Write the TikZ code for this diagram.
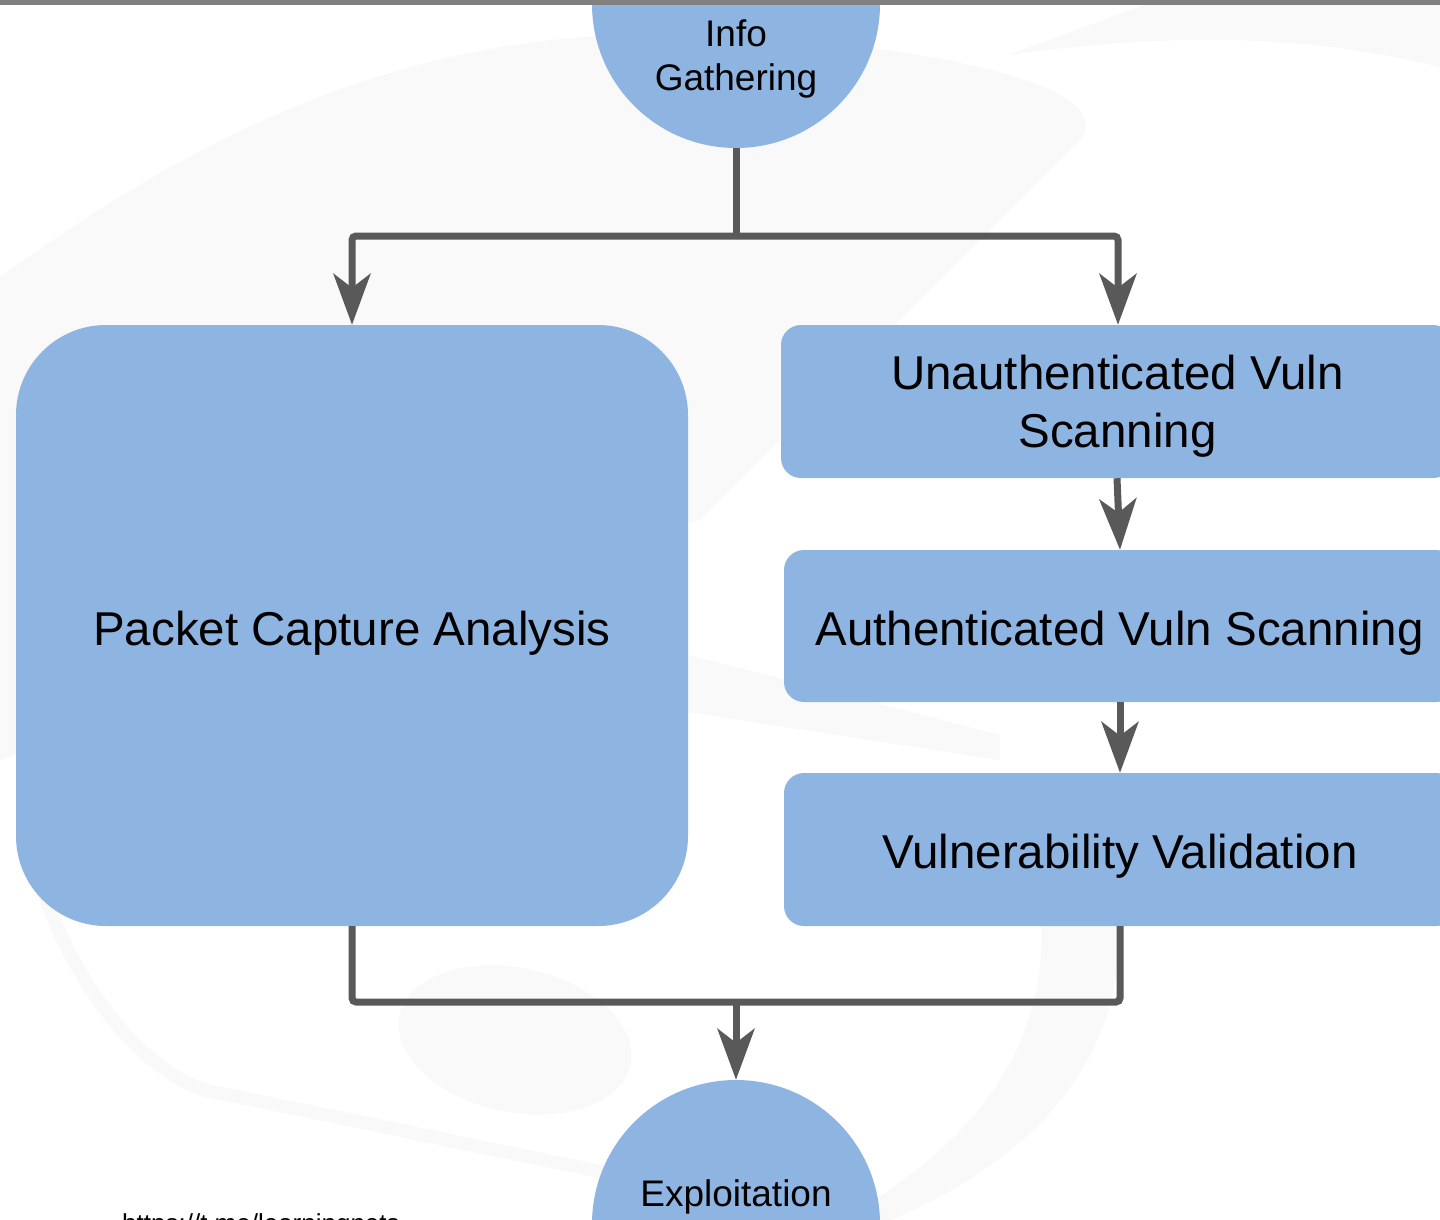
\documentclass[tikz,border=0pt]{standalone}
\usepackage{fontspec}
\setmainfont{Liberation Sans}
\usetikzlibrary{arrows.meta}
\definecolor{boxblue}{RGB}{142,180,226}
\definecolor{linegray}{RGB}{89,89,89}
\definecolor{wmgray}{RGB}{249,249,249}
\definecolor{topbar}{RGB}{128,128,128}
\begin{document}
\begin{tikzpicture}[x=1pt,y=-1pt,
  wm/.style={fill=wmgray,draw=none},
  circ/.style={circle,fill=boxblue,draw=none,minimum size=288pt,inner sep=0pt},
  bigbox/.style={rectangle,fill=boxblue,draw=none,rounded corners=90pt,minimum width=672pt,minimum height=601pt,inner sep=0pt},
  stepbox/.style={rectangle,fill=boxblue,draw=none,rounded corners=20pt,minimum width=672pt,minimum height=153pt,inner sep=0pt},
  bigtxt/.style={font=\fontsize{47.5}{58}\selectfont,align=center,inner sep=0pt},
  smalltxt/.style={font=\fontsize{37}{44}\selectfont,align=center,inner sep=0pt},
  conn/.style={draw=linegray,line width=7pt,rounded corners=4pt},
  arr/.style={conn,-{Stealth[length=51pt,width=37pt,inset=14pt]}}]
\useasboundingbox (0,0) rectangle (1440,1219);
\clip (0,0) rectangle (1440,1219);
\fill[white] (0,0) rectangle (1440,1219);
% faint watermark
\fill[wm] (0,277) .. controls (150,170) and (350,45) .. (620,35) .. controls (800,30) and (1000,60) .. (1060,95) .. controls (1095,115) and (1090,135) .. (1070,150) -- (700,520) -- (0,760) -- cycle;
\fill[wm] (1008,55) -- (1150,3) -- (1440,3) -- (1440,67) .. controls (1330,40) and (1200,28) .. (1008,55) -- cycle;
\fill[wm, rotate around={-12:(515,1040)}] (515,1040) ellipse [x radius=118, y radius=72];
\draw[draw=wmgray, line width=13pt] (40,880) .. controls (70,980) and (140,1070) .. (205,1090) -- (603,1172);
\fill[wm] (1041,915) -- (1119,915) .. controls (1125,1040) and (1060,1150) .. (880,1225) -- (850,1215) .. controls (960,1150) and (1050,1060) .. (1041,915) -- cycle;
\fill[wm] (688,655) -- (1000,735) -- (1000,760) -- (688,712) -- cycle;
% nodes
\node[circ] (info) at (736,4) {};
\node[circ] (expl) at (736,1224) {};
\node[bigbox] (packet) at (352,625.5) {};
\node[stepbox] (unauth) at (1117,401.5) {};
\node[stepbox,minimum height=152pt] (auth) at (1120,626) {};
\node[stepbox] (vuln) at (1120,849.5) {};
% labels
\node[smalltxt] (infot) at (736,59.4) {Info\\Gathering};
\node[smalltxt,anchor=base] (explt) at (736,1206) {Exploitation};
\node[bigtxt,anchor=base] (packett) at (352,645) {Packet Capture Analysis};
\node[bigtxt] (unautht) at (1117.5,406.6) {Unauthenticated Vuln\\Scanning};
\node[bigtxt,anchor=base] (autht) at (1119.5,645) {Authenticated Vuln Scanning};
\node[bigtxt,anchor=base] (vulnt) at (1120,868) {Vulnerability Validation};
\node[font=\fontsize{26}{30}\selectfont,anchor=base west,inner sep=0pt] (url) at (122,1232) {https://t.me/learningnets};
% connectors
\coordinate (split) at (736,236);
\coordinate (merge) at (736,1002);
\draw[conn] (info.south) -- (split);
\draw[arr] (split) -| (packet.north);
\draw[arr] (split) -| ([xshift=1pt]unauth.north);
\draw[arr] (unauth.south) -- (auth.north);
\draw[arr] (auth.south) -- (vuln.north);
\draw[conn] (packet.south) |- (merge) -| (vuln.south);
\draw[arr] (merge) -- (expl.north);
% top bar
\fill[topbar] (0,0) rectangle (1440,4.5);
\end{tikzpicture}
\end{document}
